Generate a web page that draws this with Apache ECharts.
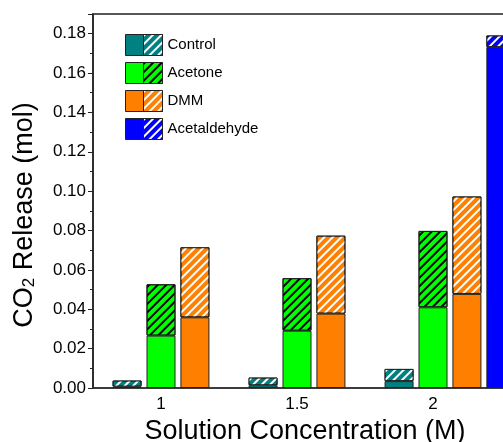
<!DOCTYPE html>
<html>
<head>
<meta charset="utf-8">
<script src="https://cdn.jsdelivr.net/npm/echarts@6/dist/echarts.min.js"></script>
<style>
  html, body { margin: 0; padding: 0; background: #fff; }
  #chart { width: 503px; height: 442px; }
</style>
</head>
<body>
<div id="chart"></div>
<script>
// x categories (last one is empty, the plot runs past the right edge)
const categories = ['1', '1.5', '2', ''];

// lower (solid) and upper (hatched) part of each bar, mol
const controlSolid = [0.0007, 0.0014, 0.0035, '-'];
const controlHatch = [0.0031, 0.0039, 0.0062, '-'];
const acetoneSolid = [0.0266, 0.0291, 0.0410, '-'];
const acetoneHatch = [0.0261, 0.0267, 0.0388, '-'];
const dmmSolid = [0.0359, 0.0378, 0.0478, '-'];
const dmmHatch = [0.0356, 0.0396, 0.0495, '-'];
const acetSolid = ['-', '-', 0.1732, '-'];
const acetHatch = ['-', '-', 0.0059, '-'];

const font = 'Liberation Sans, Arial, sans-serif';

function hatch(color) {
  return {
    symbol: 'rect',
    symbolSize: 1,
    dashArrayX: [1, 0],
    dashArrayY: [1.4, 3.6],
    rotation: -Math.PI / 4,
    color: color
  };
}

function part(name, stack, data, color, lineColor) {
  let s = {
    name: name,
    type: 'bar',
    stack: stack,
    data: data,
    barWidth: 29,
    barGap: '17%',
    clip: false,
    itemStyle: {
      color: color,
      borderColor: '#222',
      borderWidth: 1
    },
    emphasis: { disabled: true }
  };
  if (lineColor) s.itemStyle.decal = hatch(lineColor);
  return s;
}

const myChart = echarts.init(document.getElementById('chart'));

const option = {
  animation: false,
  textStyle: { fontFamily: font },
  grid: {
    left: 93,
    top: 14,
    right: -134,
    bottom: 54,
    outerBoundsMode: 'none',
    containLabel: false,
    show: true,
    borderColor: '#222',
    borderWidth: 1.5
  },
  legend: [
    {
      orient: 'vertical',
      left: 120,
      top: 29,
      itemWidth: 18,
      itemHeight: 21,
      itemGap: 6,
      icon: 'rect',
      selectedMode: false,
      formatter: () => '',
      itemStyle: { borderColor: '#222', borderWidth: 1 },
      data: ['Control-s', 'Acetone-s', 'DMM-s', 'Acetaldehyde-s']
    },
    {
      orient: 'vertical',
      left: 138,
      top: 29,
      itemWidth: 19,
      itemHeight: 21,
      itemGap: 6,
      icon: 'rect',
      selectedMode: false,
      itemStyle: { borderColor: '#222', borderWidth: 1 },
      textStyle: { fontFamily: font, fontSize: 15, color: '#000' },
      data: ['Control', 'Acetone', 'DMM', 'Acetaldehyde']
    }
  ],
  xAxis: {
    type: 'category',
    data: categories,
    axisTick: { show: false },
    axisLine: { lineStyle: { color: '#333', width: 1.5 } },
    axisLabel: { fontSize: 17, color: '#000', margin: 8 },
    name: 'Solution Concentration (M)',
    nameLocation: 'middle',
    nameGap: 29,
    nameTextStyle: { fontSize: 27, color: '#000', padding: [0, 120, 0, 0] }
  },
  yAxis: {
    type: 'value',
    min: 0,
    max: 0.19,
    interval: 0.02,
    splitLine: { show: false },
    axisLine: { show: true, lineStyle: { color: '#222', width: 1.5 } },
    axisTick: { show: true, length: 5, lineStyle: { color: '#222', width: 1 } },
    minorTick: { show: true, splitNumber: 2, length: 3, lineStyle: { color: '#222' } },
    axisLabel: {
      fontSize: 17,
      color: '#000',
      margin: 7,
      formatter: v => (Math.round(v * 1000) % 20 === 0 ? v.toFixed(2) : '')
    },
    name: 'CO{sub|2} Release (mol)',
    nameLocation: 'middle',
    nameGap: 55,
    nameTextStyle: {
      fontSize: 27,
      color: '#000',
      padding: [0, 28, 0, 0],
      rich: { sub: { fontSize: 17, verticalAlign: 'bottom', padding: [8, 0, 0, 0] } }
    }
  },
  series: [
    part('pad', 'pad', ['-', '-', '-', '-'], 'transparent', null),
    part('Control-s', 'control', controlSolid, '#008080', null),
    part('Control', 'control', controlHatch, '#008080', '#ffffff'),
    part('Acetone-s', 'acetone', acetoneSolid, '#00ff00', null),
    part('Acetone', 'acetone', acetoneHatch, '#00ff00', '#000000'),
    part('DMM-s', 'dmm', dmmSolid, '#ff8000', null),
    part('DMM', 'dmm', dmmHatch, '#ff8000', '#ffffff'),
    part('Acetaldehyde-s', 'acet', acetSolid, '#0000ff', null),
    part('Acetaldehyde', 'acet', acetHatch, '#0000ff', '#ffffff')
  ]
};

myChart.setOption(option);
</script>
</body>
</html>
